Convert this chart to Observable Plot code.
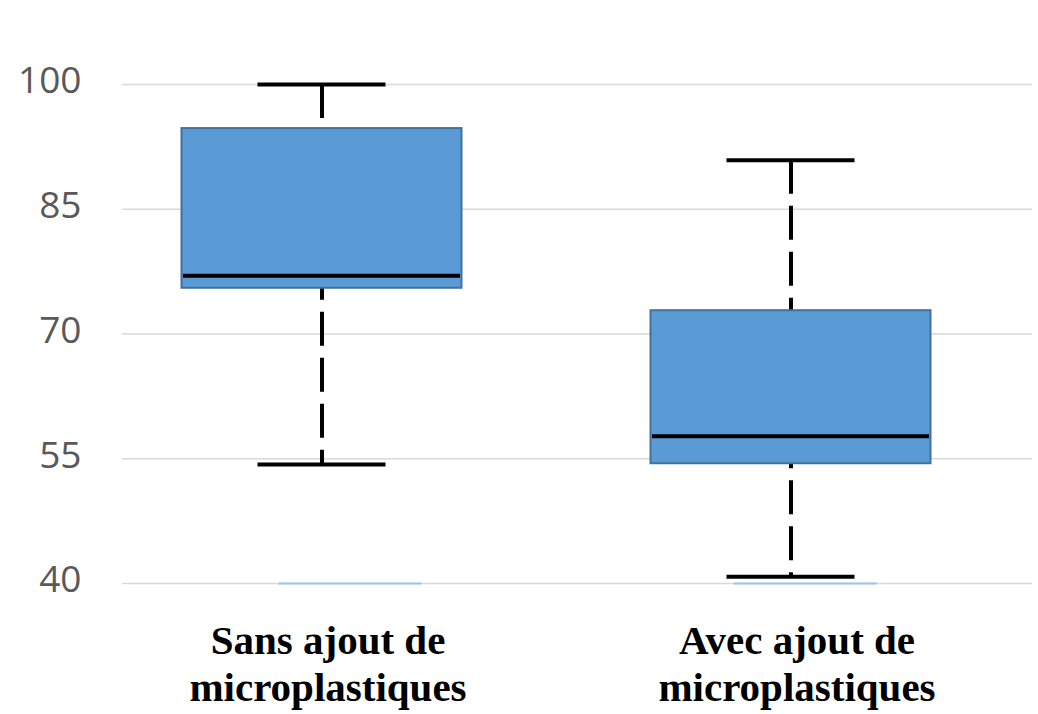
<!DOCTYPE html>
<html>
<head>
<meta charset="utf-8">
<script src="https://cdn.jsdelivr.net/npm/d3@7"></script>
<script src="https://cdn.jsdelivr.net/npm/@observablehq/plot@0.6"></script>
<style>
  html, body { margin: 0; padding: 0; background: #ffffff; }
  #chart svg { display: block; }
</style>
</head>
<body>
<div id="chart"></div>
<script>
// Data
const categories = ["Sans ajout de\nmicroplastiques", "Avec ajout de\nmicroplastiques"];
const minValues = [54.3, 40.8];
const q1Values = [75.5, 54.4];
const medianValues = [77.0, 57.7];
const q3Values = [94.7, 72.8];
const maxValues = [100, 90.9];
const baseValues = [40, 40];
const yTicks = [40, 55, 70, 85, 100];

const data = categories.map((c, i) => ({
  cat: c,
  min: minValues[i],
  q1: q1Values[i],
  median: medianValues[i],
  q3: q3Values[i],
  max: maxValues[i],
  base: baseValues[i]
}));

const first = data.filter(d => d.cat === categories[0]);
const second = data.filter(d => d.cat === categories[1]);

const whisker = {x: "cat", stroke: "#000000", strokeWidth: 4, strokeDasharray: "34,12"};

const chart = Plot.plot({
  width: 1038,
  height: 714,
  marginTop: 84,
  marginBottom: 131,
  marginLeft: 122,
  marginRight: 6,
  style: {background: "#ffffff"},
  x: {type: "band", domain: categories, range: [86.5, 1024.5], padding: 0},
  y: {domain: [40, 100]},
  marks: [
    Plot.ruleY(yTicks, {stroke: "#d9d9d9", strokeWidth: 1.5}),
    Plot.tickY(first, {x: "cat", y: "base", stroke: "#9dc3e6", strokeWidth: 2, insetLeft: 191.5, insetRight: 134.5}),
    Plot.tickY(second, {x: "cat", y: "base", stroke: "#9dc3e6", strokeWidth: 2, insetLeft: 177.5, insetRight: 148.5}),
    Plot.ruleX(data, {...whisker, y1: "max", y2: "q3"}),
    Plot.ruleX(first, {...whisker, y1: "q1", y2: "min", strokeDashoffset: 22}),
    Plot.ruleX(second, {...whisker, y1: "q1", y2: "min", strokeDashoffset: 29}),
    Plot.tickY(data, {x: "cat", y: "max", stroke: "#000000", strokeWidth: 4, insetLeft: 170.5, insetRight: 170.5}),
    Plot.tickY(data, {x: "cat", y: "min", stroke: "#000000", strokeWidth: 4, insetLeft: 170.5, insetRight: 170.5}),
    Plot.barY(data, {x: "cat", y1: "q1", y2: "q3", fill: "#5b9bd5", stroke: "#41719c", strokeWidth: 2, insetLeft: 94.5, insetRight: 94.5}),
    Plot.tickY(data, {x: "cat", y: "median", stroke: "#000000", strokeWidth: 4, insetLeft: 96, insetRight: 96}),
    Plot.axisY({ticks: yTicks, tickSize: 0, tickPadding: 41, fontSize: 37, fontFamily: "Open Sans", color: "#595959", label: null, dy: -3}),
    Plot.axisX({tickSize: 0, tickPadding: 37, fontSize: 41, fontFamily: "Liberation Serif", fontWeight: "bold", color: "#000000", lineHeight: 1.15, label: null, dx: 6})
  ]
});

document.getElementById("chart").appendChild(chart);
</script>
</body>
</html>
